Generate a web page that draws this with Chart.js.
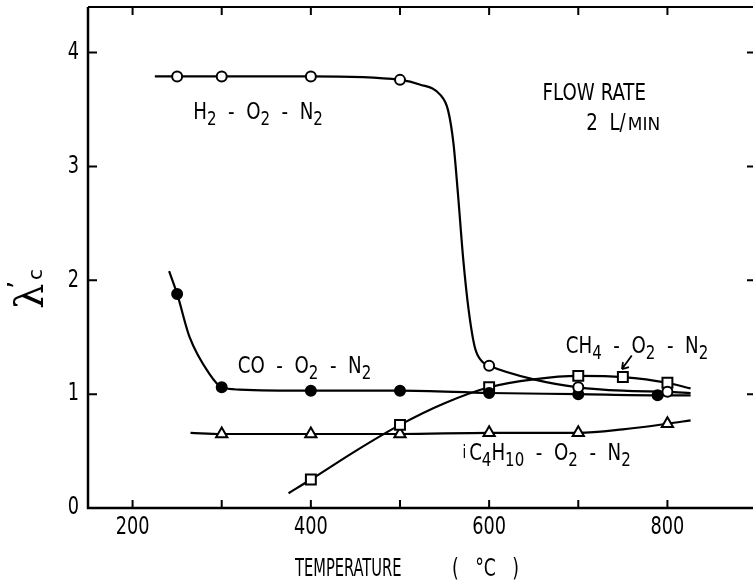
<!DOCTYPE html>
<html>
<head>
<meta charset="utf-8">
<script src="https://cdn.jsdelivr.net/npm/chart.js@4/dist/chart.umd.min.js"></script>
<style>
  html, body { margin: 0; padding: 0; background: #fff; }
  canvas { display: block; }
</style>
</head>
<body>
<canvas id="chart" width="753" height="581"></canvas>
<script>
// axis ranges and ticks (the right frame edge falls just outside the picture)
const xRange = [150, 896];
const yRange = [0, 4.4];
const xTicks = [200, 400, 600, 800];
const xMinorTicks = [200, 300, 400, 500, 600, 700, 800];
const yTicks = [0, 1, 2, 3, 4];

// H2 - O2 - N2 (open circles)
const h2Temp = [250, 300, 400, 500, 600, 700, 800];
const h2Val = [3.79, 3.79, 3.79, 3.76, 1.25, 1.06, 1.02];
const h2CurveTemp = [225, 250, 300, 400, 500, 522, 545, 554, 560, 565, 571, 577, 584, 593, 600, 650, 700, 750, 800, 826];
const h2CurveVal = [3.79, 3.79, 3.79, 3.79, 3.76, 3.72, 3.63, 3.49, 3.20, 2.76, 2.18, 1.74, 1.41, 1.28, 1.25, 1.13, 1.06, 1.03, 1.02, 1.01];

// CO - O2 - N2 (filled circles)
const coTemp = [250, 300, 400, 500, 600, 700, 789];
const coVal = [1.88, 1.06, 1.03, 1.03, 1.01, 1.00, 0.99];
const coCurveTemp = [241, 250, 264, 286, 300, 320, 400, 500, 600, 700, 789, 826];
const coCurveVal = [2.08, 1.88, 1.50, 1.18, 1.06, 1.04, 1.03, 1.03, 1.01, 1.00, 0.99, 0.99];

// CH4 - O2 - N2 (open squares)
const ch4Temp = [400, 500, 600, 700, 750, 800];
const ch4Val = [0.25, 0.73, 1.06, 1.16, 1.15, 1.10];
const ch4CurveTemp = [375, 400, 450, 500, 550, 600, 650, 700, 750, 800, 826];
const ch4CurveVal = [0.13, 0.25, 0.50, 0.73, 0.92, 1.06, 1.13, 1.16, 1.15, 1.10, 1.05];

// iC4H10 - O2 - N2 (open triangles)
const c4Temp = [300, 400, 500, 600, 700, 800];
const c4Val = [0.65, 0.65, 0.65, 0.66, 0.66, 0.74];
const c4CurveTemp = [265, 300, 400, 500, 600, 700, 750, 800, 826];
const c4CurveVal = [0.66, 0.65, 0.65, 0.65, 0.66, 0.66, 0.69, 0.74, 0.77];

// text in the plot: [x value, y value, parts]; "_" = subscript, "^" = small caps, "!" = small letter
const notes = [
  [268, 3.42, ["H", "_2", "  -  O", "_2", "  -  N", "_2"]],
  [318, 1.19, ["CO  -  O", "_2", "  -  N", "_2"]],
  [686, 1.36, ["CH", "_4", "  -  O", "_2", "  -  N", "_2"]],
  [570, 0.42, ["!i", "C", "_4", "H", "_10", "  -  O", "_2", "  -  N", "_2"]],
  [660, 3.58, ["FLOW RATE"]],
  [709, 3.32, ["2  L/", "^MIN"]]
];

const FONT = '"Liberation Sans Narrow", "DejaVu Sans Condensed", "Arial Narrow", sans-serif';

function pairs(xs, ys) {
  return xs.map((x, i) => ({ x: x, y: ys[i] }));
}

function curve(xs, ys) {
  return {
    type: 'scatter',
    data: pairs(xs, ys),
    showLine: true,
    borderColor: '#000',
    borderWidth: 2.2,
    pointRadius: 0,
    cubicInterpolationMode: 'monotone',
    order: 1
  };
}

function marks(xs, ys, style, radius, fill) {
  return {
    type: 'scatter',
    data: pairs(xs, ys),
    showLine: false,
    pointStyle: style,
    pointRadius: radius,
    pointBorderWidth: 2,
    pointBorderColor: '#000',
    pointBackgroundColor: fill,
    order: 0
  };
}

// text squeezed horizontally, to get the narrow typewriter look
function squeezed(ctx, text, x, y, sx) {
  ctx.save();
  ctx.translate(x, y);
  ctx.scale(sx, 1);
  ctx.fillText(text, 0, 0);
  ctx.restore();
  return ctx.measureText(text).width * sx;
}

function drawParts(ctx, parts, x, y, sx) {
  let cx = x;
  parts.forEach(p => {
    let size = 23, dy = 0, text = p, k = sx;
    if (p[0] === '_') { size = 19; dy = 6; text = p.slice(1); }
    else if (p[0] === '^') { size = 18; text = p.slice(1); k = 1.05; cx += 2; }
    else if (p[0] === '!') { size = 17; dy = -2; text = p.slice(1); }
    ctx.font = size + 'px ' + FONT;
    cx += squeezed(ctx, text, cx, y + dy, k) + (p[0] === '!' ? 3 : 0);
  });
}

const framePlugin = {
  id: 'frame',
  afterDraw(chart) {
    const ctx = chart.ctx;
    const a = chart.chartArea;
    const xs = chart.scales.x;
    const ys = chart.scales.y;
    ctx.save();
    ctx.strokeStyle = '#000';
    ctx.fillStyle = '#000';

    // frame
    ctx.lineWidth = 2.5;
    ctx.beginPath();
    ctx.moveTo(a.left, a.top);
    ctx.lineTo(a.left, a.bottom);
    ctx.lineTo(chart.width, a.bottom);
    ctx.stroke();
    ctx.lineWidth = 2;
    ctx.beginPath();
    ctx.moveTo(a.left, a.top);
    ctx.lineTo(chart.width, a.top);
    ctx.stroke();

    // inward ticks
    ctx.lineWidth = 2;
    ctx.beginPath();
    xMinorTicks.forEach(v => {
      const px = xs.getPixelForValue(v);
      ctx.moveTo(px, a.bottom); ctx.lineTo(px, a.bottom - 8);
      ctx.moveTo(px, a.top); ctx.lineTo(px, a.top + 8);
    });
    yTicks.slice(1).forEach(v => {
      const py = ys.getPixelForValue(v);
      ctx.moveTo(a.left, py); ctx.lineTo(a.left + 9, py);
      ctx.moveTo(chart.width, py); ctx.lineTo(chart.width - 6, py);
    });
    ctx.stroke();

    // tick labels
    ctx.font = '24px ' + FONT;
    ctx.textBaseline = 'middle';
    xTicks.forEach(v => {
      const w = ctx.measureText(String(v)).width * 0.82;
      squeezed(ctx, String(v), xs.getPixelForValue(v) - w / 2, a.bottom + 20, 0.82);
    });
    yTicks.forEach(v => {
      const w = ctx.measureText(String(v)).width * 0.82;
      squeezed(ctx, String(v), a.left - 9 - w, ys.getPixelForValue(v), 0.82);
    });

    // axis title
    ctx.textBaseline = 'alphabetic';
    ctx.font = '24px ' + FONT;
    squeezed(ctx, 'TEMPERATURE', 295, 576, 0.68);
    squeezed(ctx, '(   °C   )', 452, 576, 0.8);

    // y title, rotated
    ctx.save();
    ctx.translate(43, 309);
    ctx.rotate(-Math.PI / 2);
    ctx.font = '40px "DejaVu Serif", serif';
    ctx.fillText('λ', 0, 0);
    ctx.font = '26px "DejaVu Sans", sans-serif';
    ctx.fillText('\u2019', 20, -16);
    ctx.font = '20px "DejaVu Sans", sans-serif';
    ctx.fillText('c', 29, -1);
    ctx.restore();

    // in-plot texts
    notes.forEach(n => drawParts(ctx, n[2], xs.getPixelForValue(n[0]), ys.getPixelForValue(n[1]), 0.88));

    // arrow to the CH4 point
    const x0 = xs.getPixelForValue(760), y0 = ys.getPixelForValue(1.34);
    const x1 = xs.getPixelForValue(749), y1 = ys.getPixelForValue(1.22);
    ctx.lineWidth = 1.8;
    ctx.beginPath();
    ctx.moveTo(x0, y0); ctx.lineTo(x1, y1);
    ctx.moveTo(x1, y1); ctx.lineTo(x1 + 1, y1 - 7);
    ctx.moveTo(x1, y1); ctx.lineTo(x1 + 7, y1 - 2);
    ctx.stroke();
    ctx.restore();
  }
};

new Chart(document.getElementById('chart'), {
  type: 'scatter',
  data: {
    datasets: [
      marks(h2Temp, h2Val, 'circle', 5, '#fff'),
      marks(coTemp, coVal, 'circle', 5, '#000'),
      marks(ch4Temp, ch4Val, 'rect', 7, '#fff'),
      marks(c4Temp, c4Val, 'triangle', 6.5, '#fff'),
      curve(h2CurveTemp, h2CurveVal),
      curve(coCurveTemp, coCurveVal),
      curve(ch4CurveTemp, ch4CurveVal),
      curve(c4CurveTemp, c4CurveVal)
    ]
  },
  options: {
    responsive: false,
    animation: false,
    layout: { autoPadding: false, padding: { left: 88, top: 7, right: 0, bottom: 73 } },
    plugins: {
      legend: { display: false },
      tooltip: { enabled: false }
    },
    scales: {
      x: { type: 'linear', min: xRange[0], max: xRange[1], display: false },
      y: { type: 'linear', min: yRange[0], max: yRange[1], display: false }
    }
  },
  plugins: [framePlugin]
});
</script>
</body>
</html>
